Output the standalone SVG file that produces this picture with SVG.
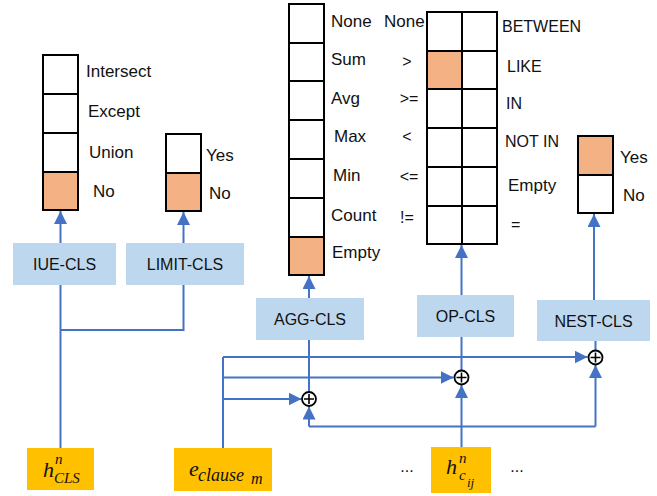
<svg xmlns="http://www.w3.org/2000/svg" width="657" height="496" viewBox="0 0 657 496">
  <style>
    .cell { fill: #ffffff; stroke: #000000; stroke-width: 2; }
    .hot { fill: #F4B183; stroke: #000000; stroke-width: 2; }
    .cls { fill: #BDD7EE; }
    .inp { fill: #FFC000; }
    .lbl { font-family: "Liberation Sans", Arial, sans-serif; font-size: 16px; fill: #111111; }
    .lw { font-size: 17px; }
    .op { font-family: "Liberation Sans", Arial, sans-serif; font-size: 16px; fill: #111111; text-anchor: middle; }
    .box { font-family: "Liberation Sans", Arial, sans-serif; font-size: 16px; fill: #111111; text-anchor: middle; }
    .math { font-family: "Liberation Serif", "Times New Roman", serif; font-style: italic; fill: #111111; }
    .wire { fill: none; stroke: #4472C4; stroke-width: 2; }
    .arr { fill: none; stroke: #4472C4; stroke-width: 2; marker-end: url(#tip); }
    .sum circle { fill: #ffffff; stroke: #000000; stroke-width: 1.8; }
    .sum path { stroke: #000000; stroke-width: 1.6; }
  </style>
  <defs>
    <marker id="tip" markerUnits="userSpaceOnUse" markerWidth="13" markerHeight="13" viewBox="0 0 12 12" refX="12" refY="6" orient="auto">
      <path d="M0,0 L12,6 L0,12 Z" fill="#4472C4"/>
    </marker>
  </defs>

  <!-- IUE output column -->
  <g id="iue-out">
    <rect class="cell" x="43" y="55" width="35" height="39"/>
    <rect class="cell" x="43" y="94" width="35" height="39"/>
    <rect class="cell" x="43" y="133" width="35" height="39"/>
    <rect class="hot" x="43" y="172" width="35" height="38"/>
    <text class="lbl lw" x="86" y="77">Intersect</text>
    <text class="lbl lw" x="88" y="117">Except</text>
    <text class="lbl lw" x="89" y="158">Union</text>
    <text class="lbl lw" x="93" y="197">No</text>
  </g>

  <!-- LIMIT output column -->
  <g id="limit-out">
    <rect class="cell" x="166" y="134" width="35" height="39"/>
    <rect class="hot" x="166" y="173" width="35" height="38"/>
    <text class="lbl lw" x="206" y="161">Yes</text>
    <text class="lbl lw" x="209" y="199">No</text>
  </g>

  <!-- AGG output column -->
  <g id="agg-out">
    <rect class="cell" x="289" y="4" width="35" height="39"/>
    <rect class="cell" x="289" y="43" width="35" height="38"/>
    <rect class="cell" x="289" y="81" width="35" height="39"/>
    <rect class="cell" x="289" y="120" width="35" height="39"/>
    <rect class="cell" x="289" y="159" width="35" height="39"/>
    <rect class="cell" x="289" y="198" width="35" height="39"/>
    <rect class="hot" x="289" y="237" width="35" height="38"/>
    <text class="lbl lw" x="331" y="27">None</text>
    <text class="lbl lw" x="331" y="65">Sum</text>
    <text class="lbl lw" x="331" y="104">Avg</text>
    <text class="lbl lw" x="334" y="142">Max</text>
    <text class="lbl lw" x="333" y="181">Min</text>
    <text class="lbl lw" x="331" y="221">Count</text>
    <text class="lbl lw" x="332" y="258">Empty</text>
  </g>

  <!-- OP output grid -->
  <g id="op-out">
    <rect class="cell" x="427" y="12" width="35" height="39"/>
    <rect class="cell" x="462" y="12" width="35" height="39"/>
    <rect class="hot" x="427" y="51" width="35" height="38"/>
    <rect class="cell" x="462" y="51" width="35" height="38"/>
    <rect class="cell" x="427" y="89" width="35" height="39"/>
    <rect class="cell" x="462" y="89" width="35" height="39"/>
    <rect class="cell" x="427" y="128" width="35" height="39"/>
    <rect class="cell" x="462" y="128" width="35" height="39"/>
    <rect class="cell" x="427" y="167" width="35" height="39"/>
    <rect class="cell" x="462" y="167" width="35" height="39"/>
    <rect class="cell" x="427" y="206" width="35" height="38"/>
    <rect class="cell" x="462" y="206" width="35" height="38"/>
    <text class="lbl lw" x="384" y="27">None</text>
    <text class="op" x="407" y="67">&gt;</text>
    <text class="op" x="409" y="104">&gt;=</text>
    <text class="op" x="407" y="142">&lt;</text>
    <text class="op" x="409" y="182">&lt;=</text>
    <text class="op" x="407" y="223">!=</text>
    <text class="lbl" x="502" y="32">BETWEEN</text>
    <text class="lbl" x="507" y="72">LIKE</text>
    <text class="lbl" x="506" y="109">IN</text>
    <text class="lbl" x="505" y="147">NOT IN</text>
    <text class="lbl lw" x="508" y="191">Empty</text>
    <text class="lbl" x="511" y="230">=</text>
  </g>

  <!-- NEST output column -->
  <g id="nest-out">
    <rect class="hot" x="578" y="136" width="35" height="39"/>
    <rect class="cell" x="578" y="175" width="35" height="38"/>
    <text class="lbl lw" x="620" y="163">Yes</text>
    <text class="lbl lw" x="623" y="201">No</text>
  </g>

  <!-- classifier heads -->
  <g id="iue-cls">
    <rect class="cls" x="13" y="243" width="103" height="42"/>
    <text class="box" x="64.5" y="270">IUE-CLS</text>
  </g>
  <g id="limit-cls">
    <rect class="cls" x="126" y="243" width="118" height="42"/>
    <text class="box" x="185" y="270">LIMIT-CLS</text>
  </g>
  <g id="agg-cls">
    <rect class="cls" x="256" y="298" width="108" height="42"/>
    <text class="box" x="310" y="325">AGG-CLS</text>
  </g>
  <g id="op-cls">
    <rect class="cls" x="417" y="295" width="97" height="42"/>
    <text class="box" x="465.5" y="322">OP-CLS</text>
  </g>
  <g id="nest-cls">
    <rect class="cls" x="537" y="300" width="113" height="41"/>
    <text class="box" x="593.5" y="327">NEST-CLS</text>
  </g>

  <!-- inputs -->
  <g id="h-cls">
    <rect class="inp" x="27" y="448" width="67" height="42"/>
    <text class="math" x="43" y="477" font-size="22">h</text>
    <text class="math" x="55" y="464" font-size="15">n</text>
    <text class="math" x="54" y="483" font-size="15">CLS</text>
  </g>
  <g id="e-clause">
    <rect class="inp" x="174" y="448" width="98" height="43"/>
    <text class="math" x="189" y="476" font-size="22">e</text>
    <text class="math" x="198" y="481" font-size="18">clause</text>
    <text class="math" x="251" y="484" font-size="16">m</text>
  </g>
  <g id="h-cij">
    <rect class="inp" x="431" y="447" width="60" height="46"/>
    <text class="math" x="446" y="474" font-size="22">h</text>
    <text class="math" x="459" y="463" font-size="15">n</text>
    <text class="math" x="459" y="480" font-size="15">c</text>
    <text class="math" x="467" y="487" font-size="13">ij</text>
  </g>
  <g id="ellipses">
    <text class="op" x="407" y="472" font-size="13">...</text>
    <text class="op" x="517" y="472" font-size="13">...</text>
  </g>

  <!-- connectors -->
  <g id="connectors">
    <!-- shared [CLS] feature into IUE and LIMIT heads -->
    <path class="wire" d="M60.5,448 V285"/>
    <path class="wire" d="M60.5,330 H183.5 V285"/>
    <path class="arr" d="M60.5,243 V211"/>
    <path class="arr" d="M183.5,243 V212"/>

    <!-- clause embedding fan-out -->
    <path class="wire" d="M223,448 V357"/>
    <path class="arr" d="M223,357 H587.5"/>
    <path class="arr" d="M223,377.5 H453.5"/>
    <path class="arr" d="M223,399 H301.5"/>

    <!-- column feature into each sum -->
    <path class="arr" d="M461.5,447 V385"/>
    <path class="wire" d="M309,426.5 H595.5"/>
    <path class="arr" d="M309,426.5 V406.5"/>
    <path class="arr" d="M595.5,426.5 V365"/>

    <!-- sums up to heads -->
    <path class="wire" d="M309,391.5 V340"/>
    <path class="wire" d="M461.5,370 V337"/>
    <path class="wire" d="M595.5,350 V341"/>

    <!-- heads up to outputs -->
    <path class="arr" d="M309,298 V276"/>
    <path class="arr" d="M461.5,295 V245"/>
    <path class="arr" d="M594,300 V214"/>
  </g>

  <!-- summation nodes -->
  <g id="sum-agg" class="sum">
    <circle cx="309" cy="399" r="7"/>
    <path d="M304,399 H314 M309,394 V404"/>
  </g>
  <g id="sum-op" class="sum">
    <circle cx="461.5" cy="377.5" r="7"/>
    <path d="M456.5,377.5 H466.5 M461.5,372.5 V382.5"/>
  </g>
  <g id="sum-nest" class="sum">
    <circle cx="595.5" cy="357.5" r="7"/>
    <path d="M590.5,357.5 H600.5 M595.5,352.5 V362.5"/>
  </g>
</svg>
